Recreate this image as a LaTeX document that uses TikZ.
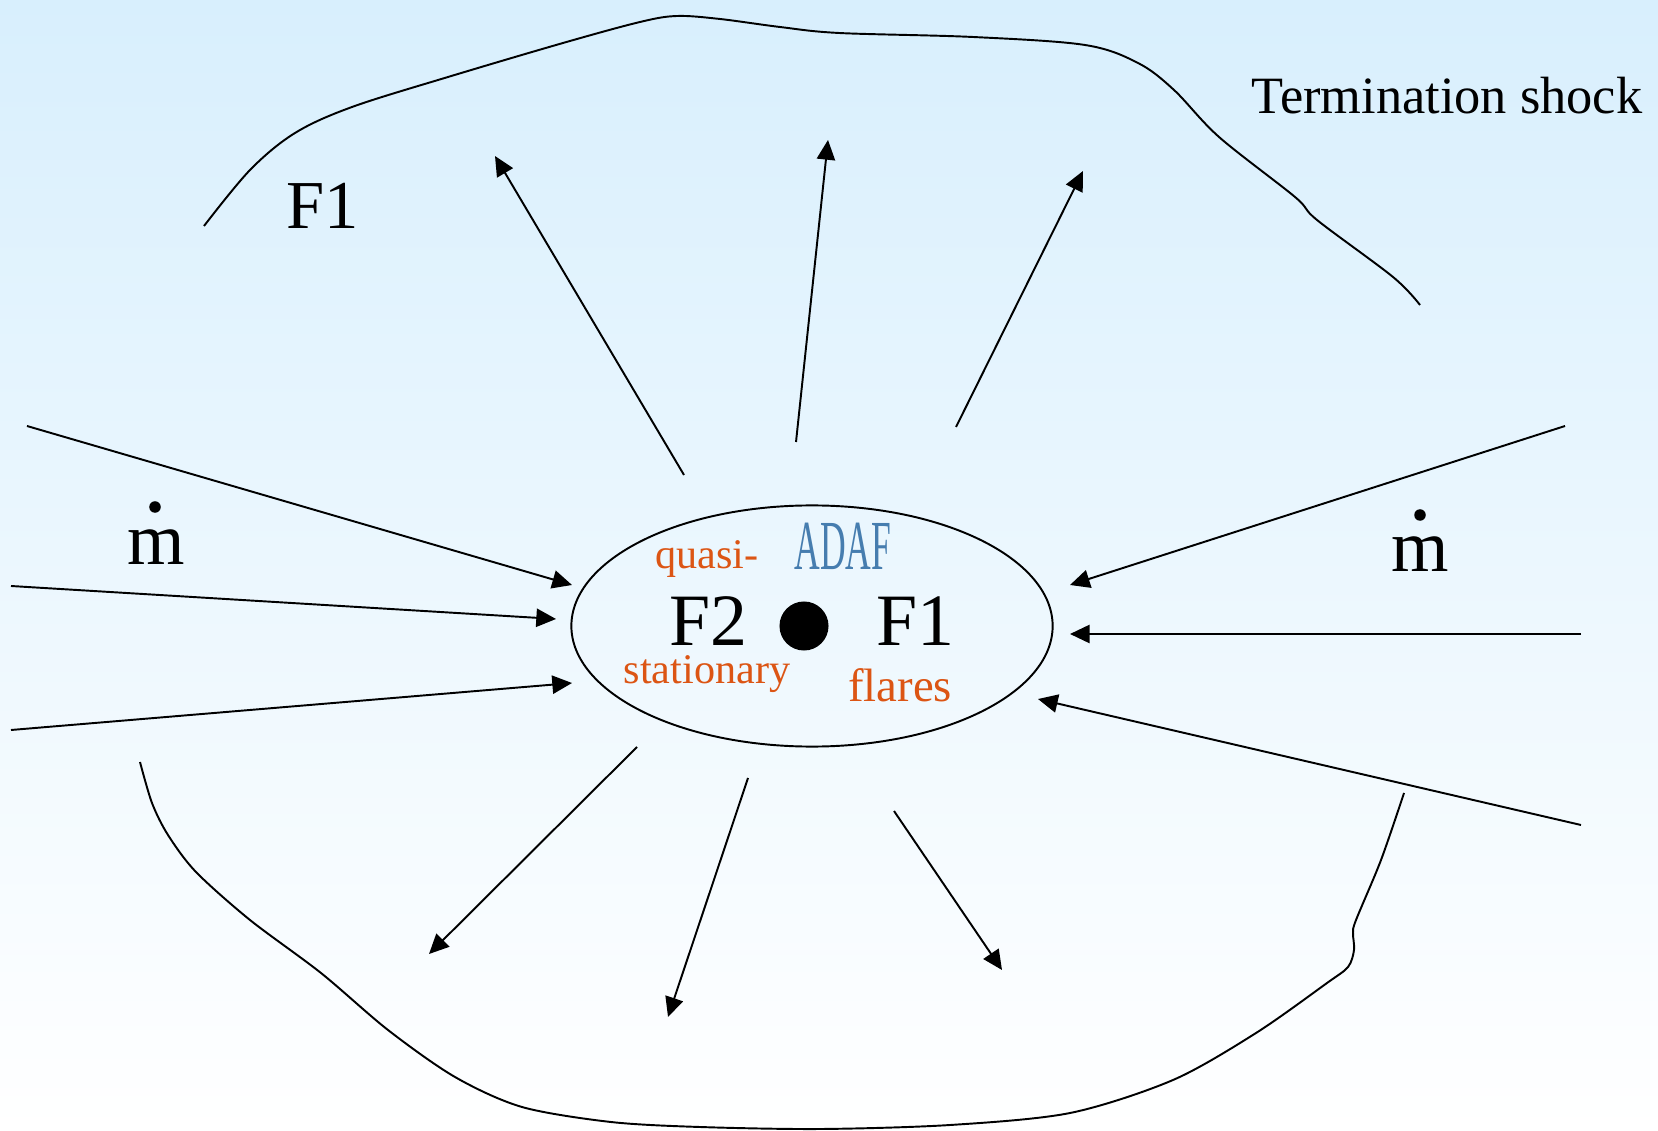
\documentclass[tikz,border=0pt]{standalone}
\usepackage{fontspec}
\setmainfont{Liberation Serif}
\usetikzlibrary{arrows.meta,shapes.geometric}

\definecolor{skytop}{RGB}{216,239,253}
\definecolor{labelorange}{RGB}{220,85,20}
\definecolor{adafblue}{RGB}{70,125,175}

\tikzset{
  flow/.style={line width=0.55pt, -{Triangle[length=5.6pt,width=5.2pt]}},
  shockline/.style={line width=0.55pt},
  txt/.style={inner sep=0pt, anchor=base},
  bigtxt/.style={txt, font=\fontsize{21}{21}\selectfont},
  smalltxt/.style={txt, text=labelorange, font=\fontsize{12}{12}\selectfont},
}

\begin{document}
\begin{tikzpicture}[x=0.01cm, y=-0.01cm]
  % sky background
  \shade[top color=skytop, bottom color=white] (0,0) rectangle (1658,1131);
  \useasboundingbox (0,0) rectangle (1658,1131);

  % termination shock, upper part
  \draw[shockline] plot[smooth, tension=0.55] coordinates {
    (204,226) (250,170) (295,133) (352,107) (448,77) (563,43) (640,22)
    (677,16) (720,19) (780,27) (839,33) (973,37) (1085,45) (1138,63)
    (1174,90) (1219,137) (1295,197) (1317,220) (1393,277) (1420,305)};

  % termination shock, lower part
  \draw[shockline] plot[smooth, tension=0.5] coordinates {
    (140,762) (152,803) (168,835) (196,872) (250,920) (321,973) (388,1030)
    (455,1077) (522,1107) (611,1122) (700,1127) (820,1129) (950,1125)
    (1070,1113) (1173,1080) (1256,1033) (1327,983) (1348,967) (1354,950)
    (1353,933) (1356,920) (1381,860) (1404,793)};

  % accretion disk and central object
  \node[draw, ellipse, line width=0.55pt, inner sep=0pt,
        minimum width=4.81cm, minimum height=2.41cm] (disk) at (812,626) {};
  \node[circle, fill=black, inner sep=0pt, minimum size=0.49cm] (bh) at (804,626) {};

  % labels inside the disk
  \node[bigtxt] (f2) at (708,645) {F2};
  \node[bigtxt] (f1in) at (915,645) {F1};
  \node[smalltxt] (quasi) at (707,569) {quasi-};
  \node[smalltxt] (stat) at (707,683) {stationary};
  \node[txt, text=labelorange, font=\fontsize{13.3}{13.3}\selectfont] (flares) at (900,701) {flares};
  \node[txt, text=adafblue, font=\fontsize{20}{20}\selectfont] (adaf) at (843,570) {\scalebox{0.505}[1]{ADAF}};

  % outer labels
  \node[txt, font=\fontsize{19.5}{19.5}\selectfont] (f1out) at (323,229) {F1};
  \node[txt, font=\fontsize{14.9}{14.9}\selectfont] (ts) at (1447,114) {Termination shock};

  % accretion rate symbols
  \node[bigtxt] (mleft) at (156,565) {m};
  \node[circle, fill=black, inner sep=0pt, minimum size=0.115cm] (mleftdot) at (155,507) {};
  \node[bigtxt] (mright) at (1420,571) {m};
  \node[circle, fill=black, inner sep=0pt, minimum size=0.115cm] (mrightdot) at (1420,515) {};

  % outflow arrows
  \coordinate (o1s) at (684,475);  \coordinate (o1e) at (495,156);
  \coordinate (o2s) at (796,442);  \coordinate (o2e) at (828,140);
  \coordinate (o3s) at (956,427);  \coordinate (o3e) at (1083,171);
  \coordinate (o4s) at (637,747);  \coordinate (o4e) at (429,954);
  \coordinate (o5s) at (748,778);  \coordinate (o5e) at (668,1017);
  \coordinate (o6s) at (894,811);  \coordinate (o6e) at (1002,970);
  \foreach \i in {1,...,6} \draw[flow] (o\i s) -- (o\i e);

  % inflow arrows
  \coordinate (l1s) at (27,426);   \coordinate (l1e) at (572,585);
  \coordinate (l2s) at (11,586);   \coordinate (l2e) at (556,619);
  \coordinate (l3s) at (11,730);   \coordinate (l3e) at (572,683);
  \coordinate (r1s) at (1565,426); \coordinate (r1e) at (1070,585);
  \coordinate (r2s) at (1581,634); \coordinate (r2e) at (1070,634);
  \coordinate (r3s) at (1581,825); \coordinate (r3e) at (1038,699);
  \foreach \i in {l1,l2,l3,r1,r2,r3} \draw[flow] (\i s) -- (\i e);
\end{tikzpicture}
\end{document}
